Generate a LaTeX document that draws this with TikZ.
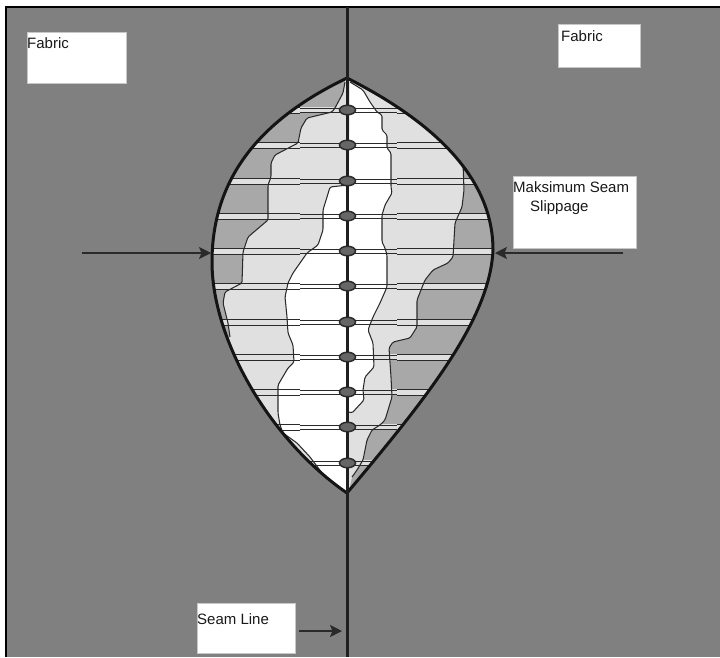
\documentclass[tikz,border=0pt]{standalone}
\usepackage{fontspec}
\setmainfont{Liberation Sans}
\usetikzlibrary{arrows.meta,shapes.geometric}
\definecolor{cloth}{HTML}{808080}
\definecolor{darkzone}{HTML}{A8A8A8}
\definecolor{lightzone}{HTML}{E0E0E0}
\definecolor{ink}{HTML}{2A2A2A}
\tikzset{
  boxnode/.style={draw=black!22,line width=.6pt,fill=white,inner sep=0pt,anchor=north west},
  labeltext/.style={inner sep=0pt,anchor=west,font=\fontsize{15}{17}\selectfont,text=black!90},
  stitchnode/.style={ellipse,draw=ink,line width=1.5pt,fill=black!60,minimum width=16pt,minimum height=9.5pt,inner sep=0pt},
  zoneline/.style={draw=ink,line width=1.05pt,rounded corners=1.5pt},
  threadline/.style={draw=ink,line width=1pt},
  pointer/.style={draw=ink,line width=1.3pt,-{Stealth[length=12pt,width=12pt,inset=2.5pt]}},
  seamline/.style={draw=black!88,line width=3pt},
}
\newcommand{\leafoutline}{(347,78) .. controls (270,115) and (212,170) .. (212,262) .. controls (212,340) and (270,440) .. (347,493) .. controls (425,400) and (490,320) .. (493,250) .. controls (493,170) and (420,115) .. (347,78) -- cycle}
\newcommand{\lightleft}{(345,82) -- (343,93) -- (335,108) -- (332,112) -- (307,118) -- (301,128) -- (298,143) -- (275,155) -- (271,163) -- (271,177) -- (268,185) -- (268,220) -- (248,237) -- (243,252) -- (242,283) -- (225,292) -- (223,303) -- (228,323) -- (230,337)}
\newcommand{\lightright}{(352,477) -- (357,470) -- (363,460) -- (367,440) -- (372,430) -- (380,425) -- (385,420) -- (392,397) -- (391,377) -- (389,348) -- (393,342) -- (410,338) -- (417,327) -- (417,300) -- (425,280) -- (433,270) -- (448,263) -- (453,257) -- (455,223) -- (462,207) -- (464,190) -- (463,163)}
\newcommand{\whiteleft}{(348,185) -- (330,187) -- (327,197) -- (323,210) -- (323,230) -- (318,245) -- (307,253) -- (293,273) -- (288,283) -- (285,297) -- (287,317) -- (288,333) -- (293,345) -- (294,362) -- (288,368) -- (278,385) -- (278,413) -- (280,425) -- (283,433) -- (297,443) -- (310,457) -- (322,473) -- (327,480)}
\newcommand{\whiteright}{(349,412) -- (352,413) -- (364,400) -- (363,390) -- (365,377) -- (374,367) -- (373,343) -- (368,330) -- (373,317) -- (380,303) -- (387,287) -- (387,255) -- (385,248) -- (382,242) -- (382,215) -- (385,205) -- (392,193) -- (391,187) -- (391,153) -- (387,148) -- (387,135) -- (382,130) -- (382,115) -- (377,112) -- (370,102) -- (363,90) -- (350,82)}
\begin{document}
\begin{tikzpicture}[x=1pt,y=-1pt]
\useasboundingbox (0,0) rectangle (720,657);
\fill[white] (0,0) rectangle (720,657);
\fill[cloth] (6,7) rectangle (720,657);
\draw[black,line width=2pt] (6,657) -- (6,6.5) -- (720,6.5);
% leaf interior
\begin{scope}
  \clip \leafoutline;
  \fill[darkzone] (190,60) rectangle (510,510);
  \foreach \yy in {110,145,181,216,251,286,322,357,392,427,463} {
    \fill[lightzone] (190,\yy-3) rectangle (510,\yy+3);
  }
  \fill[lightzone] \lightleft -- (200,337) -- (200,500) -- (347,500) -- (352,477) -- \lightright -- (520,163) -- (520,70) -- (347,70) -- cycle;
  \fill[white] \whiteleft -- (347,497) -- \whiteright -- (349,185) -- cycle;
  \draw[zoneline] \lightleft;
  \draw[zoneline] \lightright;
  \draw[zoneline] \whiteleft;
  \draw[zoneline] \whiteright;
  \foreach \yy in {110,145,181,216,251,286,322,357,392,427,463} {
    \draw[threadline] (190,\yy-3) -- (300,\yy-3) (300,\yy-2) -- (397,\yy-2) (397,\yy-3) -- (510,\yy-3);
    \draw[threadline] (190,\yy+3) -- (300,\yy+3) (300,\yy+2) -- (397,\yy+2) (397,\yy+3) -- (510,\yy+3);
  }
\end{scope}
\draw[black!92,line width=3pt,line join=round] \leafoutline;
% seam
\coordinate (seamtop) at (347,7);
\coordinate (seambot) at (347,657);
\draw[seamline] (seamtop) -- (seambot);
\foreach \yy [count=\k] in {110,145,181,216,251,286,322,357,392,427,463} {
  \node[stitchnode] (st\k) at (347.5,\yy) {};
}
% labels
\node[boxnode,minimum width=99pt,minimum height=51pt] (fabA) at (27,32) {};
\node[labeltext] (fabAt) at (27,43) {Fabric};
\node[boxnode,minimum width=82pt,minimum height=43pt] (fabB) at (558,24) {};
\node[labeltext] (fabBt) at (561,36) {Fabric};
\node[boxnode,minimum width=123pt,minimum height=72pt] (slip) at (513,176) {};
\node[labeltext] (slipA) at (513,187) {Maksimum Seam};
\node[labeltext] (slipB) at (530,208) {Slippage};
\node[boxnode,minimum width=98pt,minimum height=50pt] (seamb) at (197,603) {};
\node[labeltext] (seamt) at (197,619) {Seam Line};
% arrows
\coordinate (arrLs) at (82,253);
\coordinate (arrLe) at (211,253);
\coordinate (arrRs) at (623,253);
\coordinate (arrRe) at (495,253);
\coordinate (arrSs) at (299,631);
\coordinate (arrSe) at (342,631);
\draw[pointer] (arrLs) -- (arrLe);
\draw[pointer] (arrRs) -- (arrRe);
\draw[pointer] (arrSs) -- (arrSe);
\end{tikzpicture}
\end{document}
